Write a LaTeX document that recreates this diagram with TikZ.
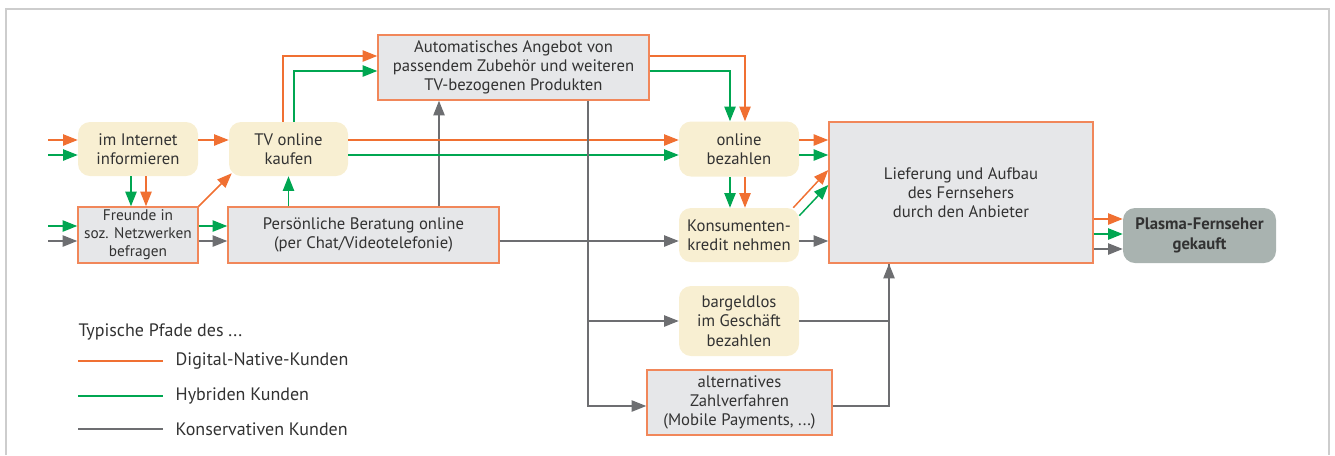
\documentclass[tikz,border=0pt]{standalone}
\usepackage{fontspec}
\setmainfont{PT Sans}
\usetikzlibrary{arrows.meta,calc}
\definecolor{corange}{RGB}{240,112,50}
\definecolor{cborder}{RGB}{241,135,90}
\definecolor{cgreen}{RGB}{0,166,81}
\definecolor{cgrey}{RGB}{109,110,113}
\definecolor{cfill}{RGB}{230,231,233}
\definecolor{ccream}{RGB}{248,239,210}
\definecolor{cdone}{RGB}{169,179,176}
\definecolor{ctext}{RGB}{50,50,50}
\definecolor{cframe}{RGB}{205,205,205}
\tikzset{
	box/.style={draw=cborder, line width=1.1pt, fill=cfill, align=center, inner sep=1pt, text=ctext},
	soft/.style={fill=ccream, rounded corners=9pt, align=center, inner sep=1pt, text=ctext},
	done/.style={fill=cdone, rounded corners=9pt, align=center, inner sep=1pt, text=ctext, font=\fontsize{12.5}{14.5}\selectfont\bfseries},
	legtext/.style={anchor=west, text=ctext, font=\fontsize{13.5}{15}\selectfont},
	orl/.style={draw=corange, line width=1.1pt, -{Triangle[length=11pt,width=8.5pt]}},
	grl/.style={draw=cgreen, line width=1.1pt, -{Triangle[length=11pt,width=8.5pt]}},
	gyl/.style={draw=cgrey, line width=1.1pt, -{Triangle[length=11pt,width=8.5pt]}},
	gyline/.style={draw=cgrey, line width=1.1pt}
}
\begin{document}
\begin{tikzpicture}[x=0.75pt, y=-0.75pt, font=\fontsize{12.5}{14.5}\selectfont]
	\useasboundingbox (0,0) rectangle (1335,455);
	\draw[cframe, line width=1.5pt] (6,455) -- (6,9) -- (1329,9) -- (1329,455);

	\node[soft, minimum width=90pt, minimum height=40.5pt] (inet) at (138,149) {im Internet\\informieren};
	\node[soft, minimum width=89.25pt, minimum height=40.5pt] (tv) at (288.5,149) {TV online\\kaufen};
	\node[box, minimum width=90pt, minimum height=42pt, font=\fontsize{11.5}{13.6}\selectfont] (freunde) at (138,235) {Freunde in\\soz. Netzwerken\\befragen};
	\node[box, minimum width=203.25pt, minimum height=42pt] (berat) at (363.5,235) {Persönliche Beratung online\\(per Chat/Videotelefonie)};
	\node[box, minimum width=203.25pt, minimum height=48.75pt] (auto) at (513.5,67.5) {Automatisches Angebot von\\passendem Zubehör und weiteren\\TV-bezogenen Produkten};
	\node[soft, minimum width=90pt, minimum height=41.25pt] (onl) at (739,149) {online\\bezahlen};
	\node[soft, minimum width=90pt, minimum height=40.5pt] (kredit) at (739,235) {Konsumenten-\\kredit nehmen};
	\node[box, minimum width=198pt, minimum height=105.75pt] (liefer) at (961,192.5) {Lieferung und Aufbau\\des Fernsehers\\durch den Anbieter};
	\node[done, minimum width=114.75pt, minimum height=41.25pt] (plasma) at (1199.5,235.5) {Plasma-Fernseher\\gekauft};
	\node[soft, minimum width=90pt, minimum height=52.5pt] (bargeld) at (739,321) {bargeldlos\\im Geschäft\\bezahlen};
	\node[box, minimum width=138.75pt, minimum height=48.75pt] (altern) at (739.5,402.5) {alternatives\\Zahlverfahren\\(Mobile Payments, ...)};

	\coordinate (in1) at (48,140);
	\coordinate (in2) at (48,155);
	\coordinate (in3) at (48,226);
	\coordinate (in4) at (48,241);
	\draw[orl] (in1) -- (in1 -| inet.west);
	\draw[grl] (in2) -- (in2 -| inet.west);
	\draw[grl] (in3) -- (in3 -| freunde.west);
	\draw[gyl] (in4) -- (in4 -| freunde.west);

	\draw[orl] ($(inet.east)+(0,-9)$) -- ($(tv.west)+(0,-9)$);
	\draw[grl] ($(inet.south)+(-7,0)$) -- ($(freunde.north)+(-7,0)$);
	\draw[orl] ($(inet.south)+(8,0)$) -- ($(freunde.north)+(8,0)$);
	\draw[orl] (freunde.north east) -- ($(tv.south west)+(3,-3)$);
	\draw[grl] ($(freunde.east)+(0,-9)$) -- ($(berat.west)+(0,-9)$);
	\draw[gyl] ($(freunde.east)+(0,6)$) -- ($(berat.west)+(0,6)$);
	\draw[grl] (tv.south |- berat.north) -- (tv.south);

	\draw[orl] ($(tv.north)+(-5.5,0)$) |- ($(auto.west)+(0,-11.5)$);
	\draw[grl] ($(tv.north)+(5.5,0)$) |- ($(auto.west)+(0,3.5)$);
	\draw[gyl] ($(berat.north)+(75.5,0)$) -- ($(auto.south)+(-74.5,0)$);

	\draw[orl] ($(tv.east)+(0,-9)$) -- ($(onl.west)+(0,-9)$);
	\draw[grl] ($(tv.east)+(0,6)$) -- ($(onl.west)+(0,6)$);
	\draw[orl] ($(auto.east)+(0,-11.5)$) -| ($(onl.north)+(6,0)$);
	\draw[grl] ($(auto.east)+(0,3.5)$) -| ($(onl.north)+(-9,0)$);
	\draw[grl] ($(onl.south)+(-9,0)$) -- ($(kredit.north)+(-9,0)$);
	\draw[orl] ($(onl.south)+(6,0)$) -- ($(kredit.north)+(6,0)$);

	\draw[gyl] ($(berat.east)+(0,6)$) -- ($(kredit.west)+(0,6)$);
	\draw[orl] ($(onl.east)+(0,-9)$) -- ($(liefer.west)+(0,-52.5)$);
	\draw[grl] ($(onl.east)+(0,6)$) -- ($(liefer.west)+(0,-37.5)$);
	\draw[orl] ($(kredit.north east)+(-6,0)$) -- ($(liefer.west)+(0,-22.5)$);
	\draw[grl] ($(kredit.north east)+(0,8)$) -- ($(liefer.west)+(0,-7.5)$);
	\draw[gyl] ($(kredit.east)+(0,6)$) -- ($(liefer.west)+(0,48.5)$);

	\draw[gyl] ($(auto.south)+(74.5,0)$) |- ($(altern.west)+(0,3.5)$);
	\draw[gyl] ($(bargeld.west)+(-91,0)$) -- (bargeld.west);
	\draw[gyline] (bargeld.east) -| ($(liefer.south)+(-72,0)$);
	\draw[gyl] ($(altern.east)+(0,3.5)$) -| ($(liefer.south)+(-72,0)$);

	\draw[orl] ($(liefer.east)+(0,26.5)$) -- ($(plasma.west)+(0,-16.5)$);
	\draw[grl] ($(liefer.east)+(0,41.5)$) -- ($(plasma.west)+(0,-1.5)$);
	\draw[gyl] ($(liefer.east)+(0,56.5)$) -- ($(plasma.west)+(0,13.5)$);

	\node[legtext] (legtitle) at (74,332) {Typische Pfade des ...};
	\foreach \c/\t/\y/\n in {corange/Digital-Native-Kunden/361/dn, cgreen/Hybriden Kunden/396/hy, cgrey/Konservativen Kunden/429/ko}{
		\draw[\c, line width=1.5pt] (78,\y) -- (163,\y);
		\node[legtext] (leg\n) at (171,\y) {\t};
	}
\end{tikzpicture}
\end{document}
